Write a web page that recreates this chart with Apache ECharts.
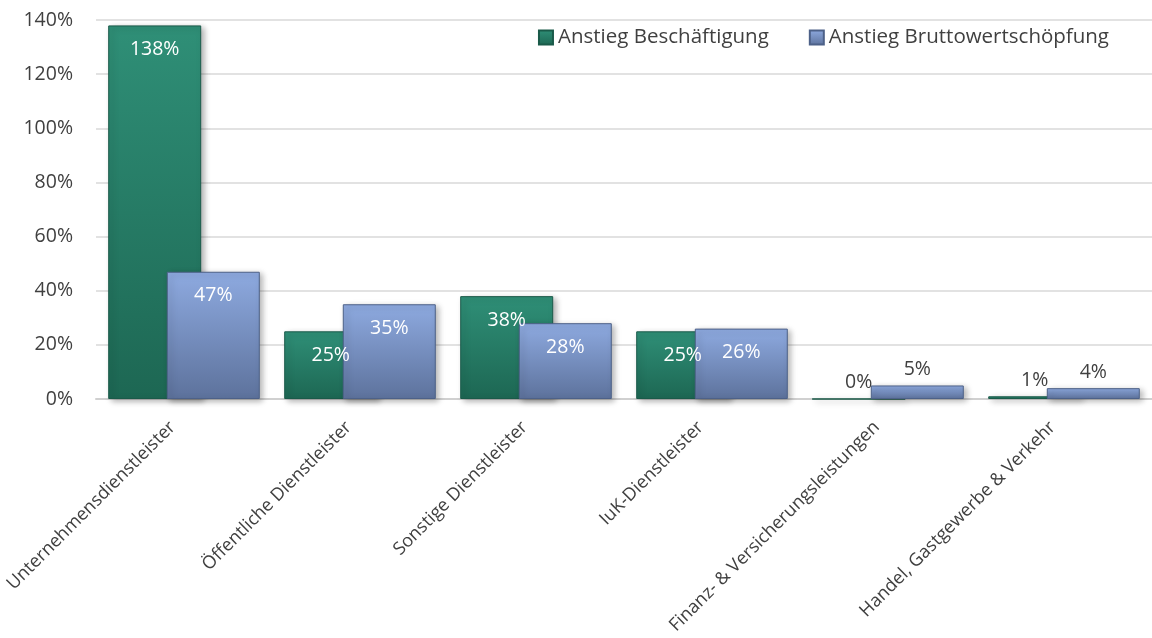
<!DOCTYPE html>
<html>
<head>
<meta charset="utf-8">
<script src="https://cdn.jsdelivr.net/npm/echarts@6/dist/echarts.min.js"></script>
<style>
  html, body { margin: 0; padding: 0; background: #fff; }
  #chart-box { width: 1152px; height: 638px; }
</style>
</head>
<body>
<div id="chart-box"></div>
<script>
const categories = ['Unternehmensdienstleister', 'Öffentliche Dienstleister', 'Sonstige Dienstleister', 'IuK-Dienstleister', 'Finanz- & Versicherungsleistungen', 'Handel, Gastgewerbe & Verkehr'];
const beschaeftigung = [138, 25, 38, 25, 0, 1];
const bruttowert = [47, 35, 28, 26, 5, 4];
const seriesNames = ['Anstieg Beschäftigung', 'Anstieg Bruttowertschöpfung'];

function init(){
    const element = document.getElementById("chart-box");
    const instance = echarts.init(element);
    const font = 'Open Sans';

    const greenFill = new echarts.graphic.LinearGradient(0, 0, 0, 1, [
        { offset: 0, color: '#2f8f77' },
        { offset: 1, color: '#1d6753' }
    ]);
    const blueFill = new echarts.graphic.LinearGradient(0, 0, 0, 1, [
        { offset: 0, color: '#8eaae0' },
        { offset: 1, color: '#5d729c' }
    ]);

    // small values get their label above the bar
    function withLabels(values){
        return values.map(v => {
            if (v < 10) {
                return { value: v, label: { position: 'top', color: '#404040', distance: 6 } };
            }
            return v;
        });
    }

    let option = {
        animation: false,
        textStyle: { fontFamily: font },
        grid: { left: 96, right: 0, top: 20, bottom: 239 },
        legend: {
            top: 22,
            right: 38,
            itemWidth: 14,
            itemHeight: 14,
            itemGap: 40,
            icon: 'rect',
            textStyle: { fontSize: 20.5, color: '#404040', fontFamily: font }
        },
        xAxis: {
            type: 'category',
            data: categories,
            axisTick: { show: false },
            axisLine: { lineStyle: { color: '#d0d0d0', width: 2 } },
            axisLabel: {
                rotate: 45,
                interval: 0,
                margin: 14,
                padding: [0, 16, 0, 0],
                fontSize: 18,
                color: '#404040',
                fontFamily: font
            }
        },
        yAxis: {
            type: 'value',
            min: 0,
            max: 140,
            interval: 20,
            axisLabel: {
                formatter: '{value}%',
                fontSize: 19.5,
                color: '#404040',
                margin: 23,
                fontFamily: font
            },
            splitLine: { lineStyle: { color: '#d9d9d9', width: 1.5 } }
        },
        series: [
            {
                name: seriesNames[0],
                type: 'bar',
                data: withLabels(beschaeftigung),
                barWidth: 93,
                barGap: '-37%',
                itemStyle: {
                    color: greenFill,
                    borderColor: '#1a5a49',
                    borderWidth: 1,
                    shadowColor: 'rgba(0,0,0,0.3)',
                    shadowBlur: 6,
                    shadowOffsetX: 3,
                    shadowOffsetY: 2
                },
                label: {
                    show: true,
                    position: 'insideTop',
                    distance: 14,
                    formatter: '{c}%',
                    fontSize: 19.5,
                    color: '#fff',
                    fontFamily: font
                }
            },
            {
                name: seriesNames[1],
                type: 'bar',
                data: withLabels(bruttowert),
                barWidth: 93,
                itemStyle: {
                    color: blueFill,
                    borderColor: '#4d6188',
                    borderWidth: 1,
                    shadowColor: 'rgba(0,0,0,0.3)',
                    shadowBlur: 6,
                    shadowOffsetX: 3,
                    shadowOffsetY: 2
                },
                label: {
                    show: true,
                    position: 'insideTop',
                    distance: 14,
                    formatter: '{c}%',
                    fontSize: 19.5,
                    color: '#fff',
                    fontFamily: font
                }
            }
        ]
    };

    instance && instance.setOption(option);

    window.onresize = function(){
        instance.resize();
    }
}
init();
</script>
</body>
</html>
